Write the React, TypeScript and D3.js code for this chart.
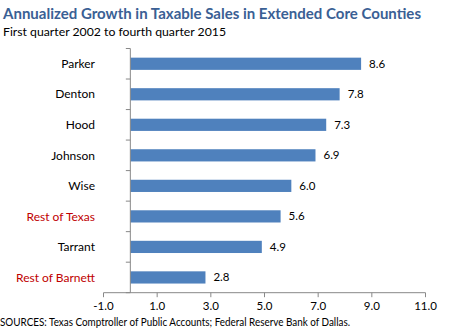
import React from "react";
import * as d3 from "d3";

const categories = ["Parker", "Denton", "Hood", "Johnson", "Wise", "Rest of Texas", "Tarrant", "Rest of Barnett"];
const values = [8.6, 7.8, 7.3, 6.9, 6.0, 5.6, 4.9, 2.8];
const highlighted = ["Rest of Texas", "Rest of Barnett"];
const xTicks = [-1, 1, 3, 5, 7, 9, 11];
const title = "Annualized Growth in Taxable Sales in Extended Core Counties";
const subtitle = "First quarter 2002 to fourth quarter 2015";
const source = "SOURCES: Texas Comptroller of Public Accounts; Federal Reserve Bank of Dallas.";

export default function App() {
  const W = 460, H = 331;
  const font = "Lato, sans-serif";
  const x = d3.scaleLinear().domain([-1, 11]).range([103.5, 425.5]);
  const y = d3.scaleBand().domain(categories).range([48.5, 292.7]).paddingInner(0.6).paddingOuter(0.3);
  const band = (292.7 - 48.5) / categories.length;
  const axisY = 292.7;
  const x0 = x(0);
  const axisColor = "#888888";
  return (
    <svg width={W} height={H} style={{ position: "absolute", left: 0, top: 0, background: "#fff" }} fontFamily={font}>
      <text x={3} y={19} fontSize={15} fontWeight="bold" fill="#3A6094" textLength={418} lengthAdjust="spacingAndGlyphs">{title}</text>
      <text x={3} y={36} fontSize={12} fill="#000" textLength={223} lengthAdjust="spacingAndGlyphs">{subtitle}</text>
      {/* bars */}
      {categories.map((c, i) => (
        <g key={c}>
          <rect x={x0} y={y(c)!} width={x(values[i]) - x0} height={y.bandwidth()} fill="#4F81BD" />
          <text x={x(values[i]) + 8} y={y(c)! + y.bandwidth() / 2} dy="0.35em" fontSize={11.5} fill="#000">{values[i].toFixed(1)}</text>
          <text x={95} y={y(c)! + y.bandwidth() / 2} dy="0.35em" textAnchor="end" fontSize={12}
            fill={highlighted.includes(c) ? "#C00000" : "#000"}>{c}</text>
        </g>
      ))}
      {/* vertical axis */}
      <line x1={x0} x2={x0} y1={48.5} y2={axisY} stroke={axisColor} />
      {d3.range(categories.length + 1).map(i => (
        <line key={i} x1={x0 - 4.5} x2={x0} y1={48.5 + i * band} y2={48.5 + i * band} stroke={axisColor} />
      ))}
      {/* horizontal axis */}
      <line x1={x(-1)} x2={x(11)} y1={axisY} y2={axisY} stroke={axisColor} />
      {xTicks.map(t => (
        <g key={t}>
          <line x1={x(t)} x2={x(t)} y1={axisY} y2={axisY + 4.5} stroke={axisColor} />
          <text x={x(t)} y={306} dy="0.35em" textAnchor="middle" fontSize={11.5} fill="#000">{t.toFixed(1)}</text>
        </g>
      ))}
      <text x={0} y={322} dy="0.35em" fontSize={10.5} fill="#000" textLength={350} lengthAdjust="spacingAndGlyphs">{source}</text>
    </svg>
  );
}
